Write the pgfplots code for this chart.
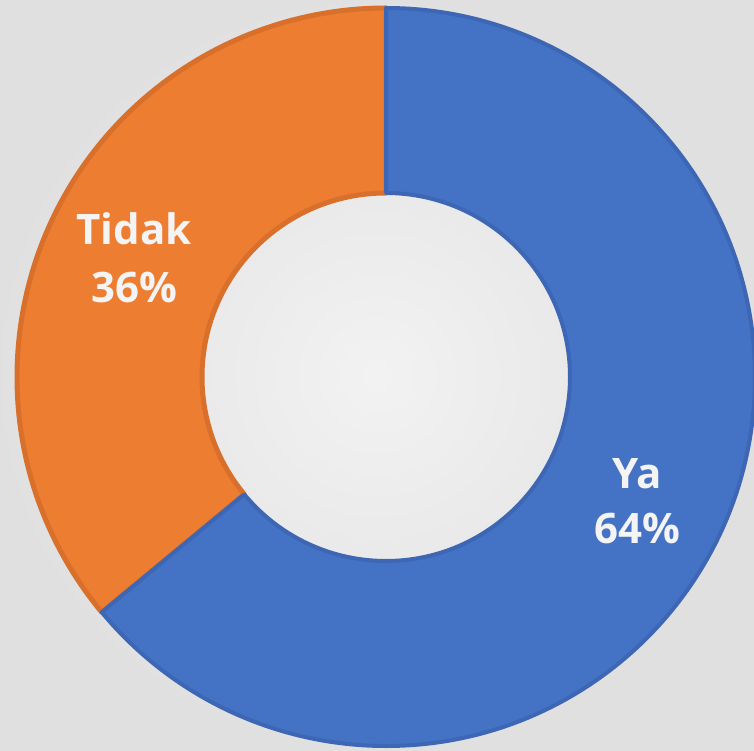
\documentclass[border=0pt]{standalone}
\usepackage{pgfplots}
\pgfplotsset{compat=1.18}
\usepackage{pgfplotstable}
\usepackage{fontspec}
\setmainfont{Open Sans}
\definecolor{cblue}{HTML}{4472C4}
\definecolor{cbluedark}{HTML}{3D67B4}
\definecolor{corange}{HTML}{ED7D31}
\definecolor{corangedark}{HTML}{D8702C}
\definecolor{ctext}{HTML}{F4F4F4}
\pgfplotstableread{
label value
Ya 64
Tidak 36
}\donutdata
\pgfplotstablegetelem{0}{value}\of\donutdata
\pgfmathsetmacro{\va}{\pgfplotsretval}
\pgfplotstablegetelem{1}{value}\of\donutdata
\pgfmathsetmacro{\vb}{\pgfplotsretval}
\pgfmathsetmacro{\frac}{\va/(\va+\vb)}
\pgfmathsetmacro{\angA}{90-360*\frac}
\begin{document}
\begin{tikzpicture}
\begin{axis}[
  x=1pt, y=1pt,
  xmin=0, xmax=754, ymin=0, ymax=750,
  hide axis,
  clip=true,
]
\shade[inner color=white!95!black, outer color=white!88!black]
  (axis cs:0,0) rectangle (axis cs:754,750);
\coordinate (c) at (axis cs:386,373);
% Tidak slice
\fill[corange, draw=corangedark, line width=5pt, line join=round]
  (c) ++(\angA:369pt) arc[start angle=\angA, end angle=-270, radius=369pt]
  -- ([shift={(90:184pt)}]c) arc[start angle=90, end angle=\angA+360, radius=184pt] -- cycle;
% Ya slice
\fill[cblue, draw=cbluedark, line width=4pt, line join=round]
  (c) ++(90:369pt) arc[start angle=90, end angle=\angA, radius=369pt]
  -- ([shift={(\angA:184pt)}]c) arc[start angle=\angA, end angle=90, radius=184pt] -- cycle;
\node[anchor=base, text=ctext, font=\fontsize{42}{50}\selectfont\bfseries] at (axis cs:134,505) {Tidak};
\node[anchor=base, text=ctext, font=\fontsize{42}{50}\selectfont\bfseries] at (axis cs:134,447) {36\%};
\node[anchor=base, text=ctext, font=\fontsize{42}{50}\selectfont\bfseries] at (axis cs:637,262) {Ya};
\node[anchor=base, text=ctext, font=\fontsize{42}{50}\selectfont\bfseries] at (axis cs:637,207) {64\%};
\end{axis}
\pgfresetboundingbox
\useasboundingbox (0,0) rectangle (754pt,750pt);
\end{tikzpicture}
\end{document}
